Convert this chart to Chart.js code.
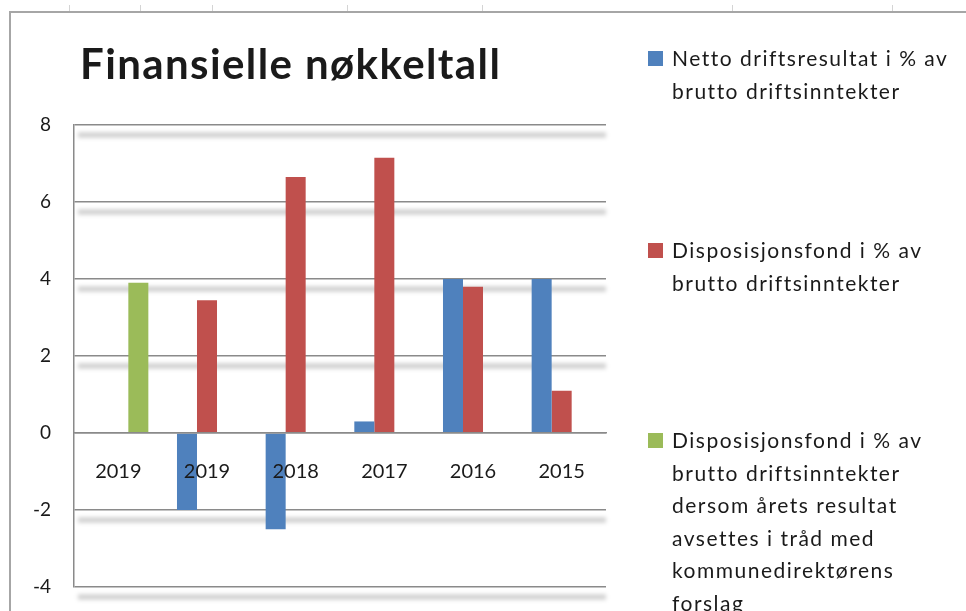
<!DOCTYPE html>
<html>
<head>
<meta charset="utf-8">
<script src="https://cdn.jsdelivr.net/npm/chart.js@4"></script>
<style>
  html, body { margin: 0; padding: 0; background: #fff; }
  #wrap { position: relative; width: 966px; height: 611px; overflow: hidden; font-family: Lato, sans-serif; color: #1a1a1a; }
  #frame { position: absolute; left: 9px; top: 11px; right: -4px; bottom: -4px; border-left: 2px solid #a6a6a6; border-top: 2px solid #a6a6a6; }
  .mark { position: absolute; top: 5px; width: 1px; height: 6px; background: #d4d4d4; }
  #title { position: absolute; left: 80px; top: 42px; font-weight: bold; font-size: 42px; letter-spacing: 1.4px; line-height: 1; white-space: nowrap; }
  .entry { position: absolute; left: 648px; white-space: nowrap; }
  .box { position: absolute; left: 0; top: 9px; width: 15px; height: 15px; }
  .text { position: absolute; left: 24px; top: 0; font-size: 21px; letter-spacing: 1.5px; line-height: 32.5px; }
  canvas { position: absolute; left: 0; top: 0; }
</style>
</head>
<body>
<div id="wrap">
  <div id="frame"></div>
  <canvas id="chart" width="966" height="611"></canvas>
  <div id="title">Finansielle nøkkeltall</div>
  <div id="legend"></div>
</div>
<script>
// Data
const years = ["2019", "2019", "2018", "2017", "2016", "2015"];
const nettoDrift = [null, -2.0, -2.5, 0.3, 4.0, 4.0];
const dispFond = [null, 3.45, 6.65, 7.15, 3.8, 1.1];
const dispFondForslag = [3.9, null, null, null, null, null];
const yTicks = [-4, -2, 0, 2, 4, 6, 8];
const seriesNames = [
  ["Netto driftsresultat i % av", "brutto driftsinntekter"],
  ["Disposisjonsfond i % av", "brutto driftsinntekter"],
  ["Disposisjonsfond i % av", "brutto driftsinntekter", "dersom årets resultat",
   "avsettes i tråd med", "kommunedirektørens", "forslag"],
];
const seriesColors = ["#4f81bd", "#c0504d", "#9bbb59"];

// little marks on the sheet edge at the top
const wrap = document.getElementById("wrap");
[69, 140, 212, 347, 482, 732, 892].forEach((x) => {
  const m = document.createElement("div");
  m.className = "mark";
  m.style.left = x + "px";
  wrap.appendChild(m);
});

// blurred shadow under each gridline (not under the zero axis)
const gridShadow = {
  id: "gridShadow",
  beforeDatasetsDraw(chart) {
    const { ctx, chartArea, scales } = chart;
    const y = scales.y;
    ctx.save();
    ctx.filter = "blur(2px)";
    ctx.strokeStyle = "rgba(0,0,0,0.2)";
    ctx.lineWidth = 5;
    y.ticks.forEach((t) => {
      if (t.value === 0) return;
      const py = y.getPixelForValue(t.value) + 10;
      ctx.beginPath();
      ctx.moveTo(chartArea.left + 4, py);
      ctx.lineTo(chartArea.right, py);
      ctx.stroke();
    });
    ctx.restore();
  },
};

const ctx = document.getElementById("chart").getContext("2d");
const chart = new Chart(ctx, {
  type: "bar",
  data: {
    labels: years,
    datasets: [
      { label: seriesNames[0].join(" "), data: nettoDrift, backgroundColor: seriesColors[0] },
      { label: seriesNames[1].join(" "), data: dispFond, backgroundColor: seriesColors[1] },
      { label: seriesNames[2].join(" "), data: dispFondForslag, backgroundColor: seriesColors[2] },
    ],
  },
  options: {
    responsive: false,
    animation: false,
    devicePixelRatio: 1,
    layout: { padding: { left: 10, top: 125, right: 360, bottom: 24 } },
    datasets: {
      bar: { categoryPercentage: 0.677, barPercentage: 1.0, borderWidth: 0 },
    },
    scales: {
      x: {
        position: { y: 0 },
        afterFit: (scale) => {
          scale.height = 0;
        },
        grid: { display: false },
        border: { display: true, color: "#8a8a8a", width: 1.5, z: 1 },
        ticks: {
          z: 1,
          color: "#1a1a1a",
          font: { family: "Lato", size: 20 },
          padding: 19,
          maxRotation: 0,
        },
      },
      y: {
        min: -4,
        max: 8,
        afterBuildTicks: (scale) => {
          scale.ticks = yTicks.map((v) => ({ value: v }));
        },
        afterFit: (scale) => {
          scale.width = 64;
          // tick padding should not push the plot area in
          scale.paddingTop = 0;
          scale.paddingBottom = 0;
        },
        grid: { color: "#8a8a8a", lineWidth: 1.5, drawTicks: false },
        border: { display: true, color: "#8a8a8a", width: 1.5 },
        ticks: {
          color: "#1a1a1a",
          font: { family: "Lato", size: 19 },
          padding: 23,
        },
      },
    },
    plugins: {
      legend: { display: false },
      tooltip: { enabled: false },
    },
  },
  plugins: [gridShadow],
});

// HTML legend built from the chart's datasets
const legendTops = [42, 234, 424];
const legend = document.getElementById("legend");
chart.data.datasets.forEach((ds, i) => {
  const entry = document.createElement("div");
  entry.className = "entry";
  entry.style.top = legendTops[i] + "px";
  const box = document.createElement("div");
  box.className = "box";
  box.style.background = ds.backgroundColor;
  const text = document.createElement("div");
  text.className = "text";
  text.innerHTML = seriesNames[i].join("<br>");
  entry.appendChild(box);
  entry.appendChild(text);
  legend.appendChild(entry);
});
</script>
</body>
</html>
